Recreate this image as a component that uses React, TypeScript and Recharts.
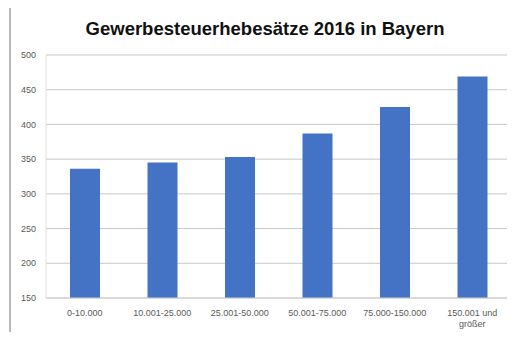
import { BarChart, Bar, XAxis, YAxis, CartesianGrid } from 'recharts';

const categories = [
  '0-10.000',
  '10.001-25.000',
  '25.001-50.000',
  '50.001-75.000',
  '75.000-150.000',
  '150.001 und größer',
];

const rates = [336, 345, 353, 387, 425, 469];

const yTicks = [150, 200, 250, 300, 350, 400, 450, 500];

const data = categories.map((name, i) => ({ name, rate: rates[i] }));

const FONT = '"Liberation Sans", Arial, sans-serif';

// wrap long category labels the way Excel does
function wrap(label: string, maxChars = 15) {
  const words = label.split(' ');
  const lines: string[] = [];
  let cur = '';
  for (const w of words) {
    const next = cur ? cur + ' ' + w : w;
    if (next.length > maxChars && cur) {
      lines.push(cur);
      cur = w;
    } else {
      cur = next;
    }
  }
  if (cur) lines.push(cur);
  return lines;
}

function CategoryTick(props: any) {
  const { x, y, payload } = props;
  const lines = wrap(String(payload.value));
  return (
    <text x={x} y={y + 10} textAnchor="middle" fill="#595959" fontSize={9} fontFamily={FONT}>
      {lines.map((l, i) => (
        <tspan key={i} x={x} dy={i === 0 ? 0 : 11}>
          {l}
        </tspan>
      ))}
    </text>
  );
}

export default function App() {
  return (
    <div
      style={{
        position: 'relative',
        width: 515,
        height: 340,
        margin: -8,
        background: '#fff',
        fontFamily: FONT,
      }}
    >
      {/* frame, only top and left edges show */}
      <div
        style={{
          position: 'absolute',
          left: 9,
          top: 6,
          width: 503,
          height: 340,
          borderTop: '1px solid #c8c8c8',
          borderLeft: '2px solid #b8b8b8',
        }}
      />

      {/* Title */}
      <div
        style={{
          position: 'absolute',
          top: 18,
          left: 0,
          width: 530,
          textAlign: 'center',
          fontSize: 18.5,
          fontWeight: 'bold',
          color: '#111',
        }}
      >
        Gewerbesteuerhebesätze 2016 in Bayern
      </div>

      <div style={{ position: 'absolute', left: 0, top: 0 }}>
        <BarChart
          width={515}
          height={340}
          data={data}
          margin={{ top: 55, right: 4, bottom: 12, left: 0 }}
        >
          <CartesianGrid vertical={false} stroke="#c8c8c8" />
          <XAxis
            dataKey="name"
            tick={<CategoryTick />}
            tickLine={false}
            axisLine={{ stroke: '#d0d0d0' }}
            interval={0}
            height={30}
          />
          <YAxis
            domain={[150, 500]}
            ticks={yTicks}
            width={46}
            tickLine={false}
            axisLine={{ stroke: '#e0e0e0' }}
            tick={{ fill: '#595959', fontSize: 9, fontFamily: FONT }}
            tickMargin={4}
            allowDataOverflow
          />
          <Bar dataKey="rate" fill="#4472c4" barSize={30} isAnimationActive={false} />
        </BarChart>
      </div>
    </div>
  );
}
